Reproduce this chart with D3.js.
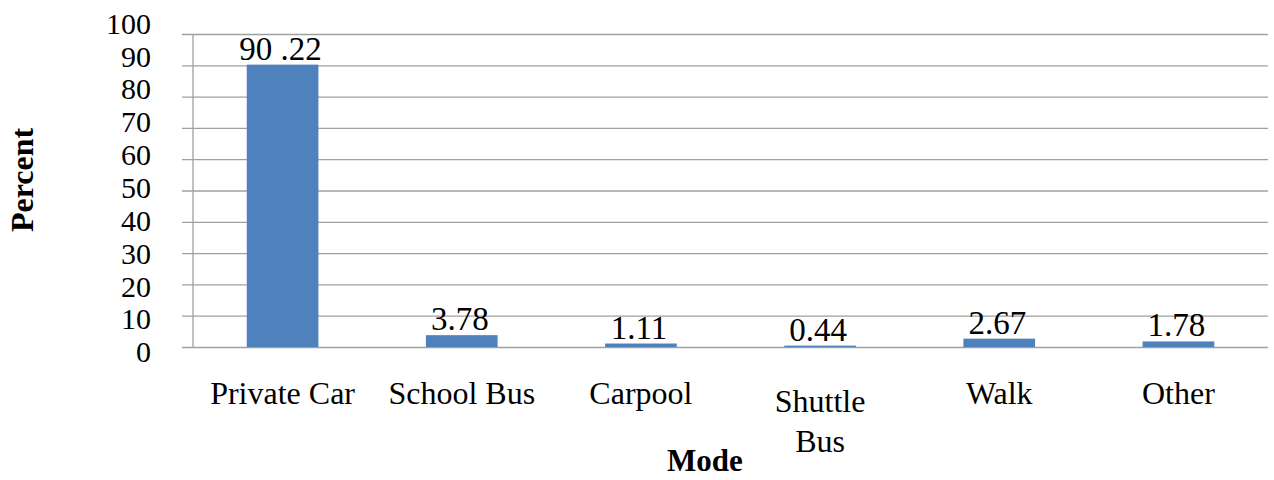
<!DOCTYPE html>
<html>
<head>
<meta charset="utf-8">
<script src="https://cdn.jsdelivr.net/npm/d3@7"></script>
<style>
  html, body { margin: 0; padding: 0; background: #fff; }
  svg { display: block; font-family: "Liberation Serif", "Times New Roman", serif; }
</style>
</head>
<body>
<svg id="chart" width="1274" height="480"></svg>
<script>
// Travel mode shares (percent)
const categories = ["Private Car", "School Bus", "Carpool", "Shuttle Bus", "Walk", "Other"];
const percents = [90.22, 3.78, 1.11, 0.44, 2.67, 1.78];
const valueLabels = ["90 .22", "3.78", "1.11", "0.44", "2.67", "1.78"];
const yTicks = [0, 10, 20, 30, 40, 50, 60, 70, 80, 90, 100];

const svg = d3.select("#chart");
const plot = { left: 193, right: 1268, top: 34, bottom: 347 };

const x = d3.scaleBand()
  .domain(categories)
  .range([plot.left, plot.right])
  .paddingInner(0.6)
  .paddingOuter(0.3);

const y = d3.scaleLinear().domain([0, 100]).range([plot.bottom, plot.top]);
// tick labels sit on a slightly wider spread than the gridlines
const yLabel = d3.scaleLinear().domain([0, 100]).range([plot.bottom + 5, plot.top - 10.5]);

// horizontal gridlines, extended left of the axis as tick marks
svg.append("g")
  .attr("transform", `translate(${plot.left},0)`)
  .call(d3.axisLeft(y).tickValues(yTicks).tickSize(-(plot.right - plot.left)).tickSizeOuter(0).tickFormat(""))
  .call(g => g.select(".domain").remove())
  .call(g => g.selectAll(".tick line")
    .attr("x1", -11)
    .attr("stroke", "#a0a0a0")
    .attr("stroke-width", 1.3));

// vertical axis line
svg.append("line")
  .attr("x1", plot.left).attr("x2", plot.left)
  .attr("y1", y(100)).attr("y2", y(0))
  .attr("stroke", "#a0a0a0").attr("stroke-width", 1.3);

// y tick labels
svg.append("g").selectAll("text")
  .data(yTicks)
  .join("text")
  .attr("x", 151)
  .attr("y", d => yLabel(d))
  .attr("dy", "0.34em")
  .attr("text-anchor", "end")
  .attr("font-size", 30)
  .attr("fill", "#000")
  .text(d => d);

// bars
svg.append("g").selectAll("rect")
  .data(categories)
  .join("rect")
  .attr("x", d => x(d))
  .attr("width", x.bandwidth())
  .attr("y", (d, i) => y(percents[i]))
  .attr("height", (d, i) => y(0) - y(percents[i]))
  .attr("fill", "#4f81bd");

// value labels
svg.append("g").selectAll("text")
  .data(categories)
  .join("text")
  .attr("x", d => x(d) + x.bandwidth() / 2 - 2)
  .attr("y", (d, i) => y(percents[i]) - 5)
  .attr("text-anchor", "middle")
  .attr("font-size", 33)
  .attr("fill", "#000")
  .text((d, i) => valueLabels[i]);

// category labels, the long one wrapped onto two lines
const catG = svg.append("g").selectAll("text")
  .data(categories)
  .join("text")
  .attr("x", d => x(d) + x.bandwidth() / 2)
  .attr("y", d => d === "Shuttle Bus" ? 412 : 404)
  .attr("text-anchor", "middle")
  .attr("font-size", 32)
  .attr("fill", "#000");
catG.each(function(d) {
  const t = d3.select(this);
  const lines = d === "Shuttle Bus" ? ["Shuttle", "Bus"] : [d];
  lines.forEach((line, j) => {
    t.append("tspan")
      .attr("x", t.attr("x"))
      .attr("dy", j === 0 ? 0 : 40)
      .text(line);
  });
});

// axis titles
svg.append("text")
  .attr("x", 705).attr("y", 471)
  .attr("text-anchor", "middle")
  .attr("font-size", 31)
  .attr("font-weight", "bold")
  .text("Mode");

svg.append("text")
  .attr("transform", "translate(33,180) rotate(-90)")
  .attr("text-anchor", "middle")
  .attr("font-size", 32)
  .attr("font-weight", "bold")
  .text("Percent");
</script>
</body>
</html>
